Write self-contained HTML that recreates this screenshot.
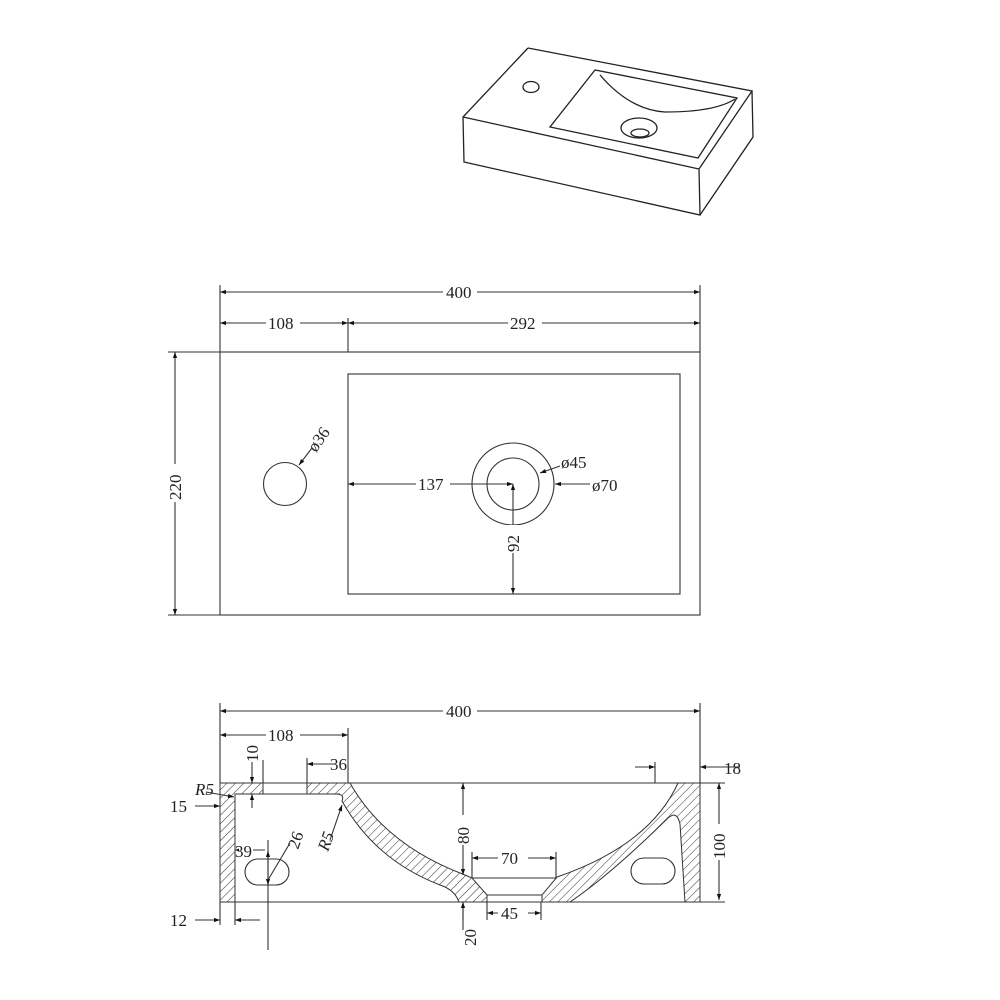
<!DOCTYPE html>
<html><head><meta charset="utf-8"><style>html,body{margin:0;padding:0;background:#fff}svg{display:block}text{font-family:"Liberation Serif",serif;font-size:17px;fill:#222}</style></head>
<body>
<svg width="1000" height="1000" viewBox="0 0 1000 1000" xmlns="http://www.w3.org/2000/svg">
<defs>
<pattern id="h" width="6" height="6" patternUnits="userSpaceOnUse" patternTransform="rotate(45)">
<line x1="0" y1="0" x2="0" y2="6" stroke="#333" stroke-width="1"/></pattern>
<marker id="a" viewBox="0 0 10 10" refX="10" refY="5" markerWidth="12" markerHeight="6" orient="auto-start-reverse" markerUnits="userSpaceOnUse"><path d="M0,1.5 L10,5 L0,8.5 z" fill="#111"/></marker>
</defs>
<g fill="none" stroke="#222" stroke-width="1.3">
<path d="M528,48 L463,117 L464,162 L700,215 L699,169 L463,117 M528,48 L752,91 L699,169 M752,91 L753,137 L700,215"/>
<path d="M595,70 L550,127 L698,158 L737,98 Z"/>
<path d="M600,75 Q630,110 665,112 Q715,112 735,99"/>
<ellipse cx="639" cy="128" rx="18" ry="10"/>
<ellipse cx="640" cy="133" rx="9" ry="4"/>
<ellipse cx="531" cy="87" rx="8" ry="5.5"/>
</g>
<g fill="none" stroke="#333" stroke-width="1.1">
<rect x="220" y="352" width="480" height="263"/>
<rect x="348" y="374" width="332" height="220"/>
<circle cx="285" cy="484" r="21.5"/>
<circle cx="513" cy="484" r="41"/>
<circle cx="513" cy="484" r="26"/>
<path d="M220,285V352 M700,285V352 M348,318V352 M168,352H220 M168,615H220"/>
<line x1="220" y1="292" x2="700" y2="292" marker-start="url(#a)" marker-end="url(#a)"/>
<line x1="220" y1="323" x2="348" y2="323" marker-start="url(#a)" marker-end="url(#a)"/>
<line x1="348" y1="323" x2="700" y2="323" marker-start="url(#a)" marker-end="url(#a)"/>
<line x1="175" y1="352" x2="175" y2="615" marker-start="url(#a)" marker-end="url(#a)"/>
<line x1="348" y1="484" x2="513" y2="484" marker-start="url(#a)" marker-end="url(#a)"/>
<line x1="513" y1="484" x2="513" y2="594" marker-start="url(#a)" marker-end="url(#a)"/>
<line x1="312" y1="448" x2="299" y2="465" marker-end="url(#a)"/>
<line x1="560" y1="466" x2="540" y2="473" marker-end="url(#a)"/>
<line x1="590" y1="484" x2="555" y2="484" marker-end="url(#a)"/>
</g>
<g fill="#fff" stroke="none">
<rect x="443" y="284" width="34" height="16"/><rect x="266" y="315" width="34" height="16"/><rect x="508" y="315" width="34" height="16"/>
<rect x="167" y="464" width="16" height="38"/><rect x="416" y="476" width="34" height="16"/><rect x="505" y="525" width="16" height="28"/>
</g>
<text x="446" y="298">400</text><text x="268" y="329">108</text><text x="510" y="329">292</text>
<text transform="translate(181,500) rotate(-90)">220</text>
<text x="418" y="490">137</text>
<text transform="translate(519,552) rotate(-90)">92</text>
<text transform="translate(316,453) rotate(-55)">ø36</text>
<text x="561" y="468">ø45</text>
<text x="592" y="491">ø70</text>
<g stroke="#333" stroke-width="1">
<path fill="url(#h)" d="M220,783 H263 V794 H235 V902 H220 Z"/>
<path fill="url(#h)" d="M307,783 H350 Q385,845 465,875 L472,878 L487,895 L487,902 L459,902 Q455,890 440,885 Q375,860 342,801 Q345,794 336,794 H307 Z"/>
<path fill="url(#h)" d="M542,902 L542,895 L557,877 Q650,845 678,783 H700 V902 H685 L680,824 Q677,810 668,818 Q610,875 570,902 Z"/>
</g>
<g fill="none" stroke="#333" stroke-width="1.1">
<path d="M235,794 H340 M263,783 H307 M487,895 H542 M472,878 H557 M220,902 H700 M350,783 H678"/>
<rect x="245" y="859" width="44" height="26" rx="13"/>
<rect x="631" y="858" width="44" height="26" rx="13"/>
<path d="M220,703V783 M700,703V783 M348,728V783 M700,783H725 M700,902H725 M220,902V925 M235,902V925 M268,840V950 M463,902V920 M487,902V920 M541,902V920 M556,852V878 M472,852V878 M263,760V783 M307,758V783 M655,762V783"/>
<line x1="220" y1="711" x2="700" y2="711" marker-start="url(#a)" marker-end="url(#a)"/>
<line x1="220" y1="735" x2="348" y2="735" marker-start="url(#a)" marker-end="url(#a)"/>
<line x1="719" y1="783" x2="719" y2="900" marker-start="url(#a)" marker-end="url(#a)"/>
<line x1="463" y1="783" x2="463" y2="875" marker-start="url(#a)" marker-end="url(#a)"/>
<line x1="472" y1="858" x2="556" y2="858" marker-start="url(#a)" marker-end="url(#a)"/>
<line x1="487" y1="913" x2="541" y2="913" marker-start="url(#a)" marker-end="url(#a)"/>
<line x1="268" y1="851" x2="268" y2="885" marker-start="url(#a)" marker-end="url(#a)"/>
<line x1="235" y1="850" x2="265" y2="850" marker-start="url(#a)"/>
<line x1="335" y1="764" x2="307" y2="764" marker-end="url(#a)"/>
<line x1="740" y1="767" x2="700" y2="767" marker-end="url(#a)"/>
<line x1="635" y1="767" x2="655" y2="767" marker-end="url(#a)"/>
<line x1="252" y1="762" x2="252" y2="783" marker-end="url(#a)"/>
<line x1="252" y1="808" x2="252" y2="794" marker-end="url(#a)"/>
<line x1="195" y1="806" x2="220" y2="806" marker-end="url(#a)"/>
<line x1="195" y1="920" x2="220" y2="920" marker-end="url(#a)"/>
<line x1="260" y1="920" x2="235" y2="920" marker-end="url(#a)"/>
<line x1="463" y1="930" x2="463" y2="902" marker-end="url(#a)"/>
<line x1="206" y1="792" x2="234" y2="797" marker-end="url(#a)"/>
<line x1="330" y1="840" x2="342" y2="805" marker-end="url(#a)"/>
<line x1="290" y1="843" x2="268" y2="880"/>
</g>
<g fill="#fff"><rect x="443" y="703" width="34" height="16"/><rect x="266" y="727" width="34" height="16"/><rect x="454" y="815" width="16" height="30"/><rect x="498" y="850" width="30" height="16"/><rect x="498" y="905" width="30" height="16"/><rect x="711" y="824" width="16" height="36"/><rect x="239" y="842" width="14" height="16"/></g>
<text x="446" y="717">400</text><text x="268" y="741">108</text>
<text x="330" y="770">36</text><text x="724" y="774">18</text>
<text transform="translate(258,762) rotate(-90)">10</text>
<text x="195" y="795" font-style="italic">R5</text>
<text x="170" y="812">15</text>
<text x="235" y="857">39</text>
<text transform="translate(298,850) rotate(-70)">26</text>
<text transform="translate(328,852) rotate(-70)" font-style="italic">R5</text>
<text x="170" y="926">12</text>
<text transform="translate(469,844) rotate(-90)">80</text>
<text x="501" y="864">70</text><text x="501" y="919">45</text>
<text transform="translate(476,946) rotate(-90)">20</text>
<text transform="translate(725,859) rotate(-90)">100</text>
</svg>
</body></html>
